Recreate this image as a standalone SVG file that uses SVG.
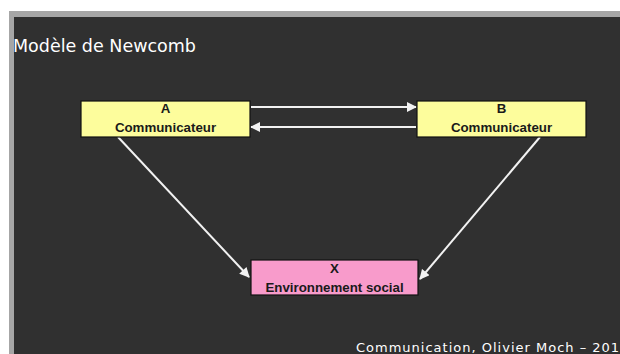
<svg xmlns="http://www.w3.org/2000/svg" width="620" height="354" viewBox="0 0 620 354">
<style>
.box{stroke:#111;stroke-width:1.2}
.lbl{font-family:"Liberation Sans",Arial,sans-serif;font-weight:bold;font-size:13.3px;text-anchor:middle;fill:#1a1a1a}
.con{stroke:#f2f2f2;stroke-width:2;fill:none;marker-end:url(#ah)}
</style>
<defs>
<marker id="ah" viewBox="0 0 10 10" refX="9" refY="5" markerWidth="5.5" markerHeight="5" orient="auto" markerUnits="strokeWidth">
<path d="M0,0 L10,5 L0,10 z" fill="#f2f2f2"/>
</marker>
</defs>
<rect width="620" height="354" fill="#ffffff"/>
<rect x="9" y="11" width="611" height="343" fill="#a6a6a6"/>
<rect x="14" y="17" width="606" height="337" fill="#303030"/>
<text x="13" y="52" font-family="DejaVu Sans,sans-serif" font-size="17.5" fill="#ffffff">Modèle de Newcomb</text>
<g id="connectors">
<line class="con" x1="251" y1="107" x2="416" y2="107"/>
<line class="con" x1="416" y1="127" x2="251" y2="127"/>
<line class="con" x1="118" y1="137" x2="249" y2="277"/>
<line class="con" x1="540" y1="137" x2="420" y2="279"/>
</g>
<g id="nodeA">
<rect class="box" x="81" y="101" width="169" height="36" fill="#fdfd9c"/>
<text class="lbl" x="165.5" y="113">A</text>
<text class="lbl" x="165.5" y="131.5">Communicateur</text>
</g>
<g id="nodeB">
<rect class="box" x="417" y="101" width="169" height="36" fill="#fdfd9c"/>
<text class="lbl" x="501.5" y="113">B</text>
<text class="lbl" x="501.5" y="131.5">Communicateur</text>
</g>
<g id="nodeX">
<rect class="box" x="251" y="260" width="167" height="35" fill="#f89bcb" stroke="#2a0a1a"/>
<text class="lbl" x="334.5" y="273" fill="#3a1428">X</text>
<text class="lbl" x="334.5" y="291.5" fill="#3a1428">Environnement social</text>
</g>
<text x="356" y="352" font-family="DejaVu Sans,sans-serif" font-size="13" letter-spacing="1" fill="#ffffff">Communication, Olivier Moch – 2017</text>
</svg>
